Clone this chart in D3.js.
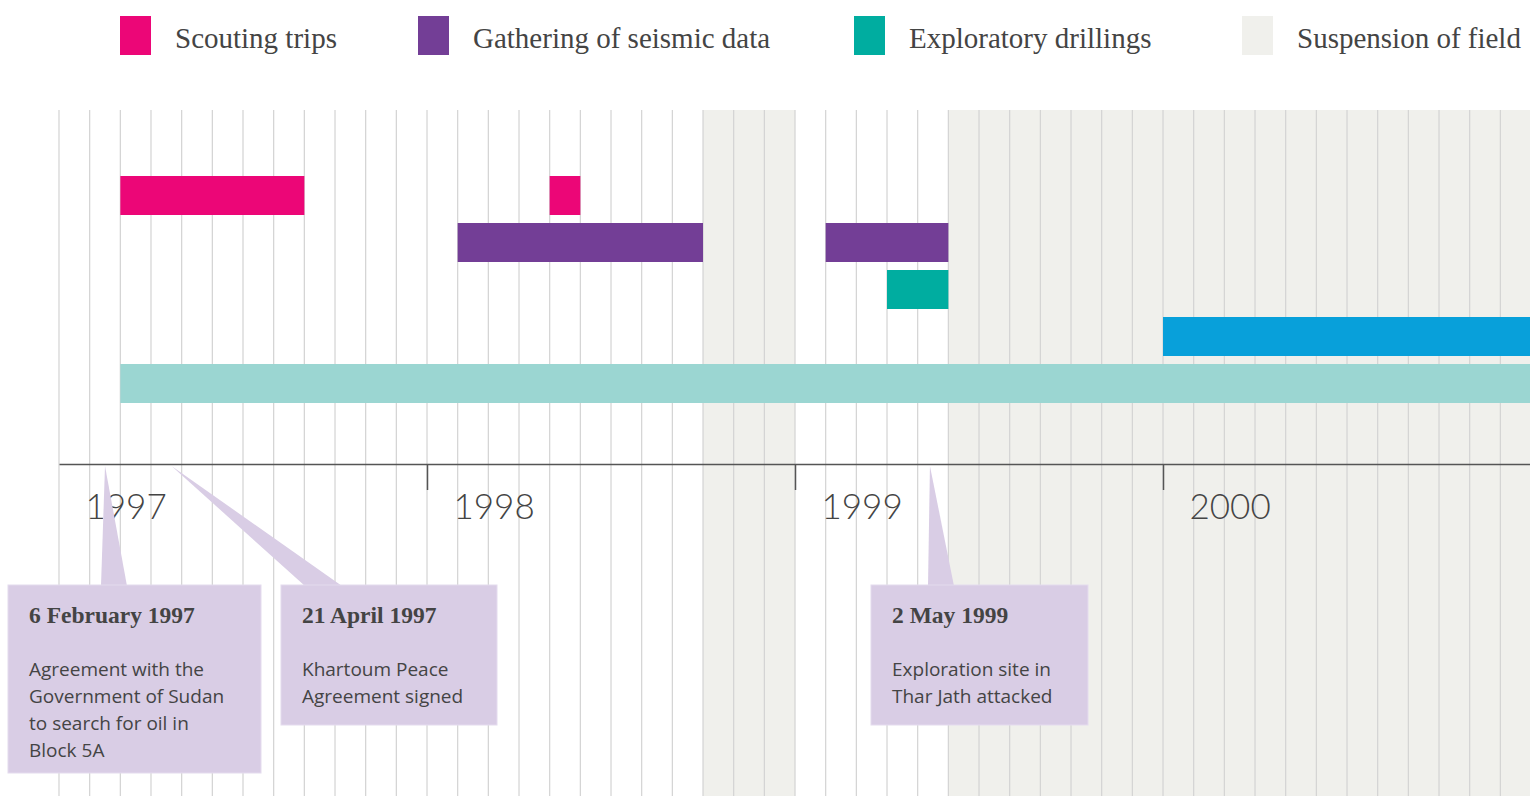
<!DOCTYPE html>
<html>
<head>
<meta charset="utf-8">
<script src="https://cdn.jsdelivr.net/npm/d3@7"></script>
<style>
  body { margin: 0; background: #fff; }
  svg { display: block; }
</style>
</head>
<body>
<svg id="chart" width="1530" height="796"></svg>
<script>
// timeline is measured in months from January 1997
const legendNames = ['Scouting trips', 'Gathering of seismic data', 'Exploratory drillings', 'Suspension of field'];
const legendColors = ['#ec0677', '#733e96', '#00ada0', '#f0f0ec'];

const rowColors = ['#ec0677', '#733e96', '#00ada0', '#08a0da', '#9bd6d2'];
const barRow = [0, 0, 1, 1, 2, 3, 4];
const barStart = [2, 16, 13, 25, 27, 36, 2];
const barEnd = [8, 17, 21, 29, 29, 48, 48];

const suspensionStart = [21, 29];
const suspensionEnd = [24, 48];

const yearTicks = [0, 12, 24, 36];
const yearLabels = ['1997', '1998', '1999', '2000'];

const eventAt = [1.5, 3.67, 28.4];
const eventTitles = ['6 February 1997', '21 April 1997', '2 May 1999'];
const eventTexts = [
  ['Agreement with the', 'Government of Sudan', 'to search for oil in', 'Block 5A'],
  ['Khartoum Peace', 'Agreement signed'],
  ['Exploration site in', 'Thar Jath attacked']
];

// layout for the callout boxes
const boxLayout = [
  { x: 8, w: 253, h: 188, baseL: 101, baseR: 127 },
  { x: 281, w: 216, h: 140, baseL: 305, baseR: 342 },
  { x: 871, w: 217, h: 140, baseL: 928, baseR: 954 }
];

const W = 1530, H = 796;
const axisY = 464, gridTop = 110, boxTop = 585;
const svg = d3.select('#chart');

const x = d3.scaleLinear().domain([0, 48]).range([59, 59 + 48 * 30.667]);
const y = d3.scaleBand()
  .domain(d3.range(rowColors.length))
  .range([176, 403])
  .paddingInner(8 / 47)
  .paddingOuter(0);

// suspension shading
svg.append('g').selectAll('rect')
  .data(suspensionStart)
  .join('rect')
  .attr('x', (d) => x(d))
  .attr('y', gridTop)
  .attr('width', (d, i) => Math.min(x(suspensionEnd[i]), W) - x(d))
  .attr('height', H - gridTop)
  .attr('fill', '#f0f0ec');

// monthly grid
svg.append('g').selectAll('line')
  .data(d3.range(0, 48))
  .join('line')
  .attr('x1', (d) => x(d)).attr('x2', (d) => x(d))
  .attr('y1', gridTop).attr('y2', H)
  .attr('stroke', '#d3d3d3')
  .attr('stroke-width', 1.2);

// bars
svg.append('g').selectAll('rect')
  .data(barRow)
  .join('rect')
  .attr('x', (d, i) => x(barStart[i]))
  .attr('y', (d) => y(d))
  .attr('width', (d, i) => Math.min(x(barEnd[i]), W) - x(barStart[i]))
  .attr('height', y.bandwidth())
  .attr('fill', (d) => rowColors[d]);

// axis
const axis = svg.append('g')
  .attr('transform', 'translate(0,' + axisY + ')')
  .call(d3.axisBottom(x)
    .tickValues(yearTicks)
    .tickSize(26)
    .tickSizeOuter(0)
    .tickFormat((d, i) => yearLabels[i]));

axis.select('.domain').attr('stroke', '#555').attr('stroke-width', 1.5);
axis.selectAll('.tick line')
  .attr('stroke', '#555')
  .attr('stroke-width', 1.5)
  .attr('opacity', (d) => (d === 0 ? 0 : 1));
axis.selectAll('.tick text')
  .attr('x', 26)
  .attr('y', 55)
  .attr('dy', 0)
  .attr('text-anchor', 'start')
  .attr('fill', '#444')
  .style('font-family', 'Lato, "Open Sans", sans-serif')
  .style('font-weight', 300)
  .style('font-size', '35px');

// callouts
const callouts = svg.append('g').selectAll('g')
  .data(eventAt)
  .join('g');

callouts.append('polygon')
  .attr('points', (d, i) => {
    const b = boxLayout[i];
    return [[x(d), axisY + 2], [b.baseL, boxTop + 1], [b.baseR, boxTop + 1]].join(' ');
  })
  .attr('fill', '#d9cde5');

callouts.append('rect')
  .attr('x', (d, i) => boxLayout[i].x)
  .attr('y', boxTop)
  .attr('width', (d, i) => boxLayout[i].w)
  .attr('height', (d, i) => boxLayout[i].h)
  .attr('fill', '#d9cde5')
  .attr('stroke', '#e4dbee')
  .attr('stroke-width', 1);

callouts.append('text')
  .attr('x', (d, i) => boxLayout[i].x + 21)
  .attr('y', 623)
  .attr('fill', '#444')
  .style('font-family', '"Liberation Serif", serif')
  .style('font-weight', 'bold')
  .style('font-size', '23.5px')
  .text((d, i) => eventTitles[i]);

callouts.each(function (d, i) {
  d3.select(this).append('text')
    .attr('fill', '#444')
    .style('font-family', '"Open Sans", sans-serif')
    .style('font-size', '19px')
    .selectAll('tspan')
    .data(eventTexts[i])
    .join('tspan')
    .attr('x', boxLayout[i].x + 21)
    .attr('y', (t, j) => 676 + j * 27)
    .text((t) => t);
});

// legend
const legendX = [120, 418, 854, 1242];
const legend = svg.append('g').selectAll('g')
  .data(legendNames)
  .join('g')
  .attr('transform', (d, i) => 'translate(' + legendX[i] + ',16)');

legend.append('rect')
  .attr('width', 31)
  .attr('height', 39)
  .attr('fill', (d, i) => legendColors[i]);

legend.append('text')
  .attr('x', 55)
  .attr('y', 32)
  .attr('fill', '#444')
  .style('font-family', '"Liberation Serif", serif')
  .style('font-size', '29px')
  .text((d) => d);
</script>
</body>
</html>
